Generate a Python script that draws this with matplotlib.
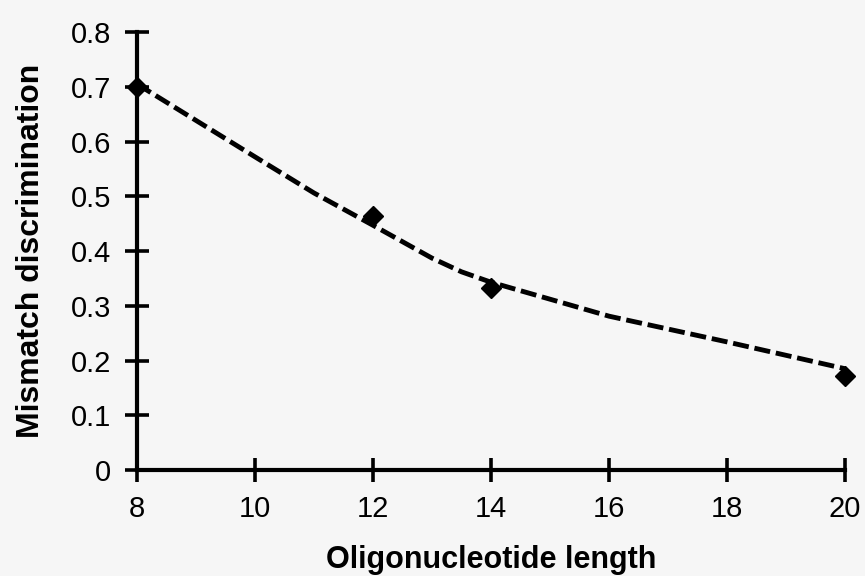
"""
Mismatch discrimination vs oligonucleotide length (scanned figure redraw).
"""

import matplotlib
matplotlib.use("Agg")
import matplotlib.pyplot as plt

# measured points (diamonds)
uzunluk = [8, 12, 14, 20]
ayrim = [0.70, 0.464, 0.332, 0.172]

# dashed trend curve
egri_x = [8, 10, 11, 12, 13, 13.5, 14, 16, 18, 20]
egri_y = [0.705, 0.572, 0.506, 0.447, 0.387, 0.362, 0.343, 0.281, 0.234, 0.185]

xticks = [8, 10, 12, 14, 16, 18, 20]
yticks = [0, 0.1, 0.2, 0.3, 0.4, 0.5, 0.6, 0.7, 0.8]

plt.rcParams["font.family"] = ["Liberation Sans", "DejaVu Sans"]

fig = plt.figure(figsize=(8.65, 5.76), dpi=100, facecolor="#f6f6f6")
ax = fig.add_axes([0.1584, 0.184, 0.8185, 0.7604])
ax.set_facecolor("#f6f6f6")

ax.plot(egri_x, egri_y, color="black", lw=3.5, ls=(0, (3.3, 1.2)),
        dash_capstyle="butt", zorder=3)
ax.plot(uzunluk, ayrim, ls="none", marker="D", ms=10, color="black",
        zorder=4, clip_on=False)

ax.set_xlim(8, 20)
ax.set_ylim(0, 0.8)
ax.set_xticks(xticks)
ax.set_yticks(yticks)
ax.set_yticklabels(["0" if v == 0 else f"{v:.1f}" for v in yticks])

for s in ("top", "right"):
    ax.spines[s].set_visible(False)
for s in ("left", "bottom"):
    ax.spines[s].set_linewidth(3)

ax.tick_params(direction="inout", length=17.5, width=2.6, labelsize=21)
ax.tick_params(axis="x", pad=9)
ax.tick_params(axis="y", pad=10)

ax.set_xlabel("Oligonucleotide length", fontsize=22, fontweight="bold", labelpad=16)
ax.set_ylabel("Mismatch discrimination", fontsize=23, fontweight="bold", labelpad=18)

fig.savefig("out.png", dpi=100, facecolor=fig.get_facecolor())
